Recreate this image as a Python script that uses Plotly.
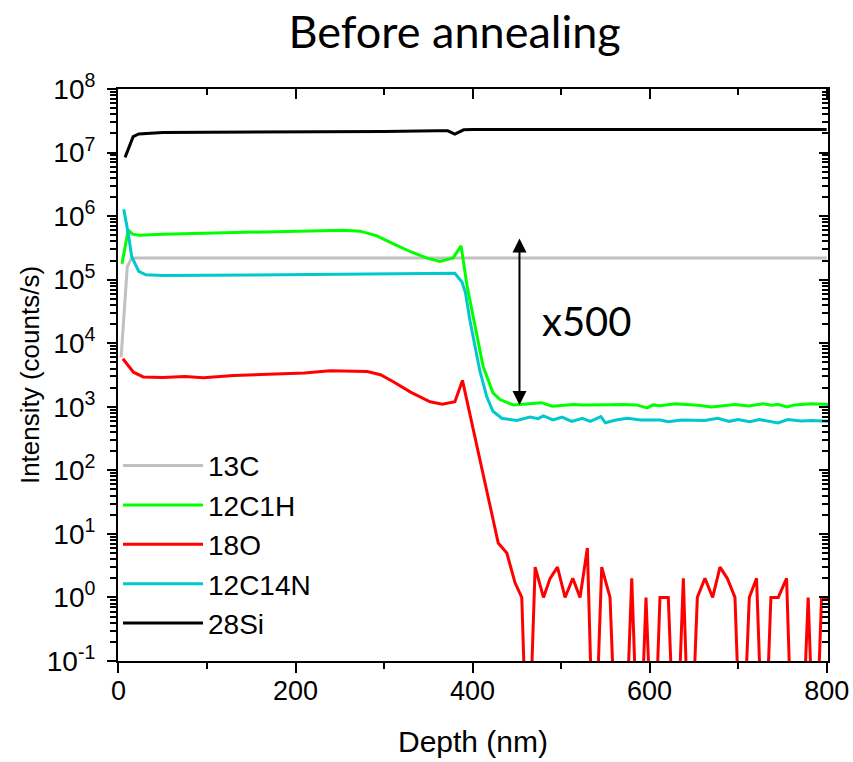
import math
import plotly.graph_objects as go

# ---------------- data ----------------
c13_depth = [3, 10, 15, 30, 100, 200, 300, 400, 500, 600, 700, 800]
c13_vals = [6e3, 1.6e5, 2.2e5, 2.2e5, 2.2e5, 2.2e5, 2.2e5, 2.2e5, 2.2e5, 2.2e5, 2.2e5, 2.2e5]

c12h_depth = [4, 11, 16, 23, 50, 104, 179, 254, 273, 292, 310, 330, 348, 363, 378, 387,
              394, 401, 412, 423, 431, 446, 457, 469, 478, 490, 501, 514, 525, 540, 553,
              570, 585, 597, 604, 612, 629, 645, 655, 670, 685, 696, 712, 728, 738, 745,
              755, 764, 783, 802]
c12h_vals = [1.78e5, 6.0e5, 5.2e5, 5.0e5, 5.2e5, 5.4e5, 5.6e5, 6.0e5, 5.8e5, 4.9e5, 3.7e5,
             2.75e5, 2.2e5, 1.93e5, 2.2e5, 3.4e5, 7.7e4, 2.4e4, 4.3e3, 1.66e3, 1.3e3,
             1.07e3, 1.1e3, 1.12e3, 1.16e3, 1.02e3, 1.05e3, 1.09e3, 1.07e3, 1.09e3, 1.08e3,
             1.09e3, 1.07e3, 9.6e2, 1.07e3, 1.04e3, 1.12e3, 1.08e3, 1.06e3, 9.9e2, 1.05e3,
             1.09e3, 1.03e3, 1.12e3, 1.06e3, 1.09e3, 9.9e2, 1.07e3, 1.12e3, 1.09e3]

o18_depth = [5, 17, 28, 50, 75, 96, 130, 160, 179, 210, 239, 260, 281, 296, 310, 330, 352,
             366, 375, 380, 388.6, 397, 405, 413, 421, 429, 438.7, 448, 455.6, 462.4, 470.7,
             480.1, 487.6, 495.9, 504.5, 513.2, 521.4, 529.7, 537.2, 545.9, 555.3, 563.6,
             571.1, 579.8, 588, 595.9, 604.2, 611.7, 621.1, 629.4, 638.1, 645.6, 653.9,
             662.5, 671.2, 679.5, 687.7, 696.4, 703.9, 712.6, 720.8, 729.1, 737, 745.3,
             754.7, 762.2, 770.5, 779.1, 786.7, 794.2, 801.7]
o18_vals = [5.7e3, 3.5e3, 2.95e3, 2.9e3, 3.0e3, 2.85e3, 3.1e3, 3.2e3, 3.3e3, 3.4e3, 3.7e3,
            3.6e3, 3.6e3, 3.2e3, 2.5e3, 1.7e3, 1.2e3, 1.1e3, 1.15e3, 1.2e3, 2.6e3, 7.6e2,
            2.4e2, 7.4e1, 2.3e1, 7.2, 5, 1.7, 1, 0, 3, 1, 2, 3, 1, 2, 1, 6, 0, 3, 1, 0, 0,
            2, 0, 1, 0, 1, 1, 0, 2, 0, 1, 2, 1, 3, 2, 1, 0, 1, 2, 0, 1, 1, 2, 0, 0, 1, 0,
            1, 1]

c12n_depth = [6, 11, 15, 23, 31, 50, 150, 250, 370, 380, 388, 392, 397, 403, 408, 416, 423,
              433, 446, 450, 465, 474, 480, 491, 501, 512, 524, 533, 545, 550, 562, 575,
              590, 601, 612, 621, 636, 662, 677, 690, 700, 713, 724, 745, 756, 771, 783, 802]
c12n_vals = [1.28e6, 5.4e5, 2.3e5, 1.35e5, 1.19e5, 1.16e5, 1.18e5, 1.2e5, 1.25e5, 1.26e5,
             9.2e4, 6.2e4, 2.3e4, 8.9e3, 3.8e3, 1.45e3, 8.5e2, 6.6e2, 6.3e2, 6.1e2, 6.9e2,
             6.5e2, 7.2e2, 6.2e2, 6.9e2, 5.9e2, 6.6e2, 5.9e2, 7.0e2, 5.6e2, 6.2e2, 6.6e2,
             6.2e2, 6.2e2, 6.2e2, 5.8e2, 6.2e2, 6.1e2, 6.6e2, 5.9e2, 6.3e2, 5.8e2, 6.3e2,
             5.55e2, 6.3e2, 6.0e2, 6.1e2, 5.9e2]

si28_depth = [7.5, 16.6, 23, 50, 100, 200, 300, 360, 372, 380, 390, 400, 500, 600, 700, 800]
si28_vals = [8.4e6, 1.78e7, 1.96e7, 2.06e7, 2.08e7, 2.1e7, 2.15e7, 2.2e7, 2.2e7, 1.95e7,
             2.28e7, 2.3e7, 2.3e7, 2.3e7, 2.3e7, 2.3e7]

series = [
    ("13C", c13_depth, c13_vals, "#c0c0c0"),
    ("12C1H", c12h_depth, c12h_vals, "#00ff00"),
    ("18O", o18_depth, o18_vals, "#ff0000"),
    ("12C14N", c12n_depth, c12n_vals, "#00c8cc"),
    ("28Si", si28_depth, si28_vals, "#000000"),
]

x_major = [0, 200, 400, 600, 800]
x_minor = [100, 300, 500, 700]
y_exponents = list(range(-1, 9))
y_major = [10.0 ** e for e in y_exponents]
y_labels = ["10<sup>%d</sup>" % e for e in y_exponents]
y_minor = [m * 10.0 ** e for e in range(-1, 8) for m in range(2, 10)]

# annotation values (ratio between matrix level and substrate level)
ARROW_X = 453
ARROW_TOP = 4.7e5
ARROW_BOTTOM = 1.07e3
RATIO_TEXT = "x500"
RATIO_POS = (529, 2.2e4)

ZERO_FLOOR = 1e-3  # zero counts drawn below the visible log range

X_RANGE = [-0.5, 801.5]
Y_RANGE = [-1, 8]

# ---------------- figure ----------------
fig = go.Figure()
for name, d, v, col in series:
    yv = [val if val > 0 else ZERO_FLOOR for val in v]
    fig.add_trace(go.Scatter(x=d, y=yv, mode="lines", name=name,
                             line=dict(color=col, width=3)))

# dummy trace to realise the mirrored (top/right) axes
fig.add_trace(go.Scatter(x=[None], y=[None], xaxis="x2", yaxis="y2",
                         showlegend=False, hoverinfo="skip"))

FONT = "Liberation Sans, Arial, sans-serif"
tick_font = dict(family=FONT, size=27, color="black")

fig.update_layout(
    width=853, height=762,
    margin=dict(l=118, r=25, t=89, b=101, autoexpand=False),
    paper_bgcolor="white", plot_bgcolor="white",
    showlegend=True,
    title=dict(text="Before annealing", x=0.533, xanchor="center",
               y=0.958, yanchor="middle", yref="container",
               font=dict(family="Lato, Open Sans, sans-serif", size=45, color="black")),
    legend=dict(x=0.0, y=0.385, xanchor="left", yanchor="top",
                bgcolor="rgba(0,0,0,0)", borderwidth=0,
                font=dict(family=FONT, size=28, color="black"),
                itemwidth=80, tracegroupgap=0),
    xaxis=dict(range=X_RANGE, showgrid=False, zeroline=False, automargin=False,
               showline=True, linecolor="black", linewidth=2,
               tickmode="array", tickvals=x_major, ticktext=[str(t) for t in x_major],
               ticks="outside", ticklen=10, tickwidth=2, tickcolor="black",
               ticklabelstandoff=-5,
               minor=dict(tickmode="array", tickvals=x_minor, ticks="outside",
                          ticklen=6, tickwidth=2, tickcolor="black"),
               tickfont=tick_font,
               title=dict(text="Depth (nm)", font=dict(family=FONT, size=30, color="black"),
                          standoff=26)),
    yaxis=dict(type="log", range=Y_RANGE, showgrid=False, zeroline=False, automargin=False,
               showline=True, linecolor="black", linewidth=2,
               tickmode="array", tickvals=y_major, ticktext=y_labels,
               ticks="outside", ticklen=9, tickwidth=2, tickcolor="black",
               ticklabelstandoff=6,
               minor=dict(tickmode="array", tickvals=y_minor, ticks="outside",
                          ticklen=6, tickwidth=1.5, tickcolor="black"),
               tickfont=dict(family=FONT, size=28, color="black"),
               title=dict(text="Intensity (counts/s)",
                          font=dict(family=FONT, size=26, color="black"), standoff=0)),
    xaxis2=dict(overlaying="x", side="top", anchor="y", range=X_RANGE, automargin=False,
                showgrid=False, zeroline=False, showline=True, linecolor="black",
                linewidth=2, showticklabels=False,
                tickmode="array", tickvals=x_major,
                ticks="inside", ticklen=10, tickwidth=2, tickcolor="black",
                minor=dict(tickmode="array", tickvals=x_minor, ticks="inside",
                           ticklen=6, tickwidth=2, tickcolor="black")),
    yaxis2=dict(overlaying="y", side="right", anchor="x", type="log", range=Y_RANGE,
                automargin=False,
                showgrid=False, zeroline=False, showline=True, linecolor="black",
                linewidth=2, showticklabels=False,
                tickmode="array", tickvals=y_major,
                ticks="inside", ticklen=9, tickwidth=2, tickcolor="black",
                minor=dict(tickmode="array", tickvals=y_minor, ticks="inside",
                           ticklen=6, tickwidth=1.5, tickcolor="black")),
)

fig.add_annotation(x=ARROW_X, y=math.log10(ARROW_BOTTOM), ax=ARROW_X,
                   ay=math.log10(ARROW_TOP), xref="x", yref="y", axref="x", ayref="y",
                   text="", showarrow=True, arrowhead=2, arrowside="end+start",
                   arrowsize=1.4, arrowwidth=2, arrowcolor="black")
fig.add_annotation(x=RATIO_POS[0], y=math.log10(RATIO_POS[1]), xref="x", yref="y",
                   text=RATIO_TEXT, showarrow=False, xanchor="center", yanchor="middle",
                   font=dict(family="Lato, Open Sans, sans-serif", size=40, color="black"))

fig.write_html("out.html", config={"displayModeBar": False},
               post_script="document.body.style.margin='0';document.body.style.padding='0';")
